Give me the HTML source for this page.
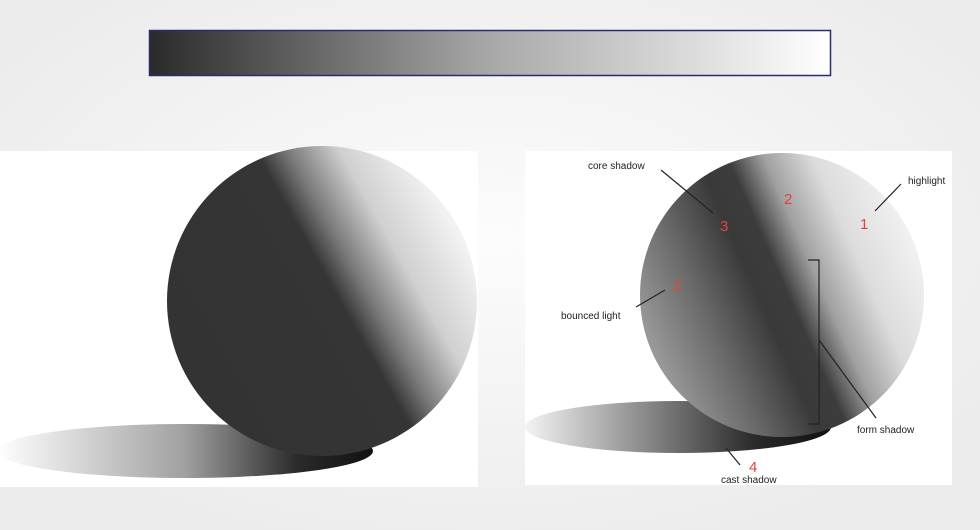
<!DOCTYPE html>
<html><head><meta charset="utf-8"><style>
html,body{margin:0;padding:0;width:980px;height:530px;overflow:hidden;background:#f1f1f1;}
svg{display:block;font-family:"Liberation Sans",sans-serif;}
</style></head><body>
<svg width="980" height="530" viewBox="0 0 980 530">
<defs>
<radialGradient id="bg" cx="0.5" cy="0.45" r="0.6"><stop offset="0" stop-color="#fcfcfc"/><stop offset="1" stop-color="#ececec"/></radialGradient>
<linearGradient id="bar" x1="0" x2="1" y1="0" y2="0"><stop offset="0" stop-color="#2a2a2a"/><stop offset="0.5" stop-color="#a8a8a8"/><stop offset="1" stop-color="#ffffff"/></linearGradient>
<linearGradient id="s1" x1="0.15" y1="0.75" x2="0.95" y2="0.3"><stop offset="0" stop-color="#333"/><stop offset="0.52" stop-color="#353535"/><stop offset="0.62" stop-color="#7a7a7a"/><stop offset="0.78" stop-color="#d0d0d0"/><stop offset="1" stop-color="#f2f2f2"/></linearGradient>
<linearGradient id="s2" x1="0.05" y1="0.7" x2="0.95" y2="0.3"><stop offset="0" stop-color="#999"/><stop offset="0.22" stop-color="#6a6a6a"/><stop offset="0.42" stop-color="#3a3a3a"/><stop offset="0.52" stop-color="#3c3c3c"/><stop offset="0.64" stop-color="#a0a0a0"/><stop offset="0.8" stop-color="#dcdcdc"/><stop offset="1" stop-color="#f0f0f0"/></linearGradient>
<linearGradient id="sh1" x1="0" x2="1"><stop offset="0" stop-color="#fff"/><stop offset="0.5" stop-color="#a0a0a0"/><stop offset="0.8" stop-color="#2a2a2a"/><stop offset="1" stop-color="#111"/></linearGradient>
<linearGradient id="sh2" x1="0" x2="1"><stop offset="0" stop-color="#f4f4f4"/><stop offset="0.45" stop-color="#7a7a7a"/><stop offset="0.75" stop-color="#2a2a2a"/><stop offset="1" stop-color="#111"/></linearGradient>
</defs>
<rect width="980" height="530" fill="url(#bg)"/>
<rect x="149.5" y="30.5" width="681" height="45" fill="url(#bar)" stroke="#2a2d6b" stroke-width="1.5"/>
<g>
<rect x="0" y="151" width="478" height="336" fill="#fff"/>
<ellipse cx="185" cy="451" rx="188" ry="27" fill="url(#sh1)"/>
<circle cx="322" cy="301" r="155" fill="url(#s1)"/>
</g>
<g>
<rect x="525" y="151" width="427" height="334" fill="#fff"/>
<ellipse cx="678" cy="427" rx="153" ry="26" fill="url(#sh2)"/>
<circle cx="782" cy="295" r="142" fill="url(#s2)"/>
<g stroke="#222" stroke-width="1.2" fill="none">
<line x1="661" y1="170" x2="713" y2="213"/>
<line x1="875" y1="211" x2="901" y2="184"/>
<line x1="636" y1="307" x2="665" y2="290"/>
<polyline points="808,260 819,260 819,424 808,424"/>
<line x1="819" y1="340" x2="876" y2="418"/>
<line x1="726" y1="448" x2="740" y2="465"/>
</g>
<g font-size="10" fill="#222">
<text x="588" y="169">core shadow</text>
<text x="908" y="184">highlight</text>
<text x="561" y="319">bounced light</text>
<text x="857" y="433">form shadow</text>
<text x="721" y="483">cast shadow</text>
</g>
<g font-size="15" fill="#e8413c">
<text x="720" y="231">3</text>
<text x="784" y="204">2</text>
<text x="860" y="229">1</text>
<text x="673" y="290">2</text>
<text x="749" y="472">4</text>
</g>
</g>
</svg>
</body></html>
